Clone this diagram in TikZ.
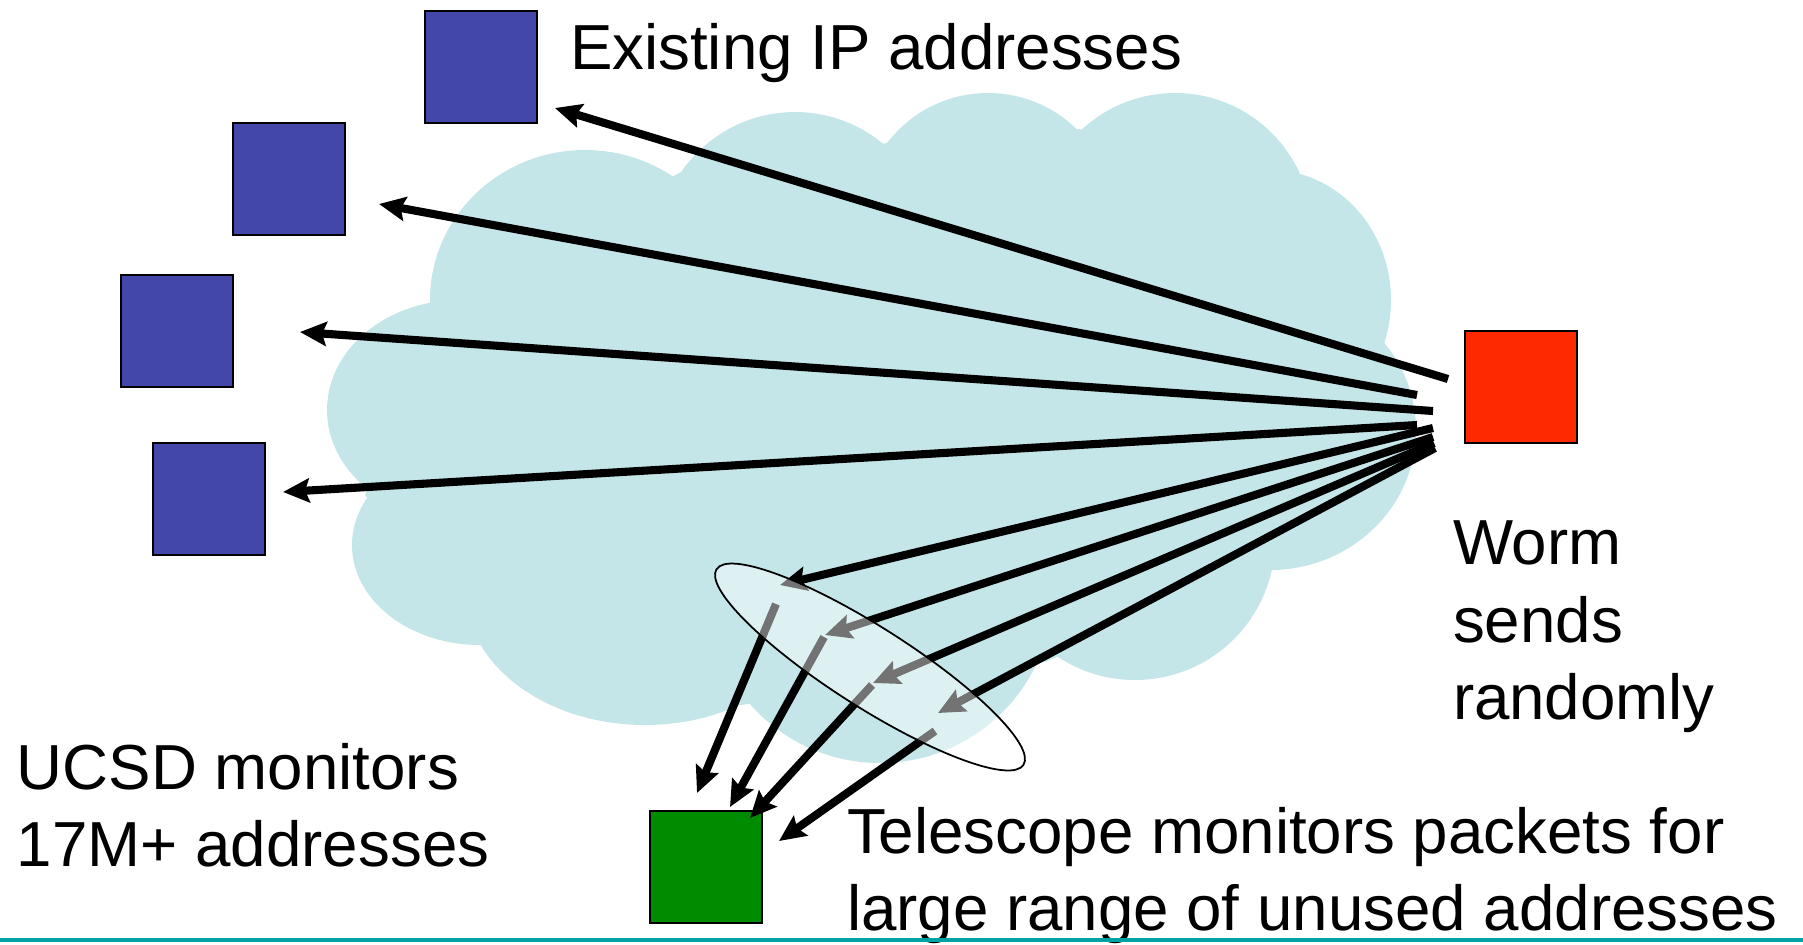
\documentclass[tikz,border=0pt]{standalone}
\usepackage{fontspec}
\setmainfont{Liberation Sans}
\usetikzlibrary{arrows.meta}

\definecolor{cloudblue}{RGB}{196,230,232}
\definecolor{hostblue}{RGB}{68,71,170}
\definecolor{wormred}{RGB}{255,41,0}
\definecolor{telegreen}{RGB}{0,140,0}
\definecolor{slideline}{RGB}{0,163,163}

\tikzset{
  host/.style={draw=black, line width=0.7pt, minimum width=1.12cm, minimum height=1.12cm, inner sep=0pt, outer sep=0pt},
  send/.style={line width=2.3pt, -{Stealth[length=7.5pt, width=6.8pt, inset=1.2pt]}},
  note/.style={inner sep=0pt, outer sep=0pt, align=left, font=\fontsize{18.1pt}{21.9pt}\selectfont}
}

\begin{document}
\begin{tikzpicture}[x=0.01cm, y=-0.01cm]
\useasboundingbox (0,0) rectangle (1803,944);

\fill[cloudblue] (427,310) -- (681,172) -- (895,142) -- (1079,129) -- (1293,177) -- (1383,332)
  -- (1270,560) -- (1045,662) -- (741,705) -- (474,642) -- (365,495) -- cycle;
\fill[cloudblue] (585,300) ellipse [x radius=155, y radius=150];
\fill[cloudblue] (795,250) circle [radius=138];
\fill[cloudblue] (988,220) circle [radius=127];
\fill[cloudblue] (1175,230) circle [radius=137];
\fill[cloudblue] (1270,300) ellipse [x radius=121, y radius=130];
\fill[cloudblue] (1270,430) ellipse [x radius=146, y radius=140];
\fill[cloudblue] (1135,540) circle [radius=140];
\fill[cloudblue] (880,590) circle [radius=173];
\fill[cloudblue] (645,590) ellipse [x radius=180, y radius=135];
\fill[cloudblue] (480,545) ellipse [x radius=128, y radius=100];
\fill[cloudblue] (460,410) ellipse [x radius=133, y radius=110];

\node[host, fill=hostblue] (ip1) at (481,67) {};
\node[host, fill=hostblue] (ip2) at (289,179) {};
\node[host, fill=hostblue] (ip3) at (177,331) {};
\node[host, fill=hostblue] (ip4) at (209,499) {};
\node[host, fill=wormred] (worm) at (1521,387) {};
\node[host, fill=telegreen] (scope) at (706,867) {};

\coordinate (s1) at (1448,379);
\coordinate (s2) at (1417,395);
\coordinate (s3) at (1433,411);
\coordinate (s4) at (1417,425);
\coordinate (s5) at (1433,428);
\coordinate (s6) at (1433,437);
\coordinate (s7) at (1434,443);
\coordinate (s8) at (1435,448);

\coordinate (t1) at (555,108);
\coordinate (t2) at (379,204);
\coordinate (t3) at (300,332);
\coordinate (t4) at (283,492);

\coordinate (hit1) at (780,585);
\coordinate (hit2) at (825,635);
\coordinate (hit3) at (873,683);
\coordinate (hit4) at (938,713);
\coordinate (out1) at (776,604);
\coordinate (out2) at (824,637);
\coordinate (out3) at (872,685);
\coordinate (out4) at (935,731);

\coordinate (in1) at (697,793);
\coordinate (in2) at (730,807);
\coordinate (in3) at (750,818);
\coordinate (in4) at (779,841);

\draw[send] (s1) -- (t1);
\draw[send] (s2) -- (t2);
\draw[send] (s3) -- (t3);
\draw[send] (s4) -- (t4);
\draw[send] (s5) -- (hit1);
\draw[send] (s6) -- (hit2);
\draw[send] (s7) -- (hit3);
\draw[send] (s8) -- (hit4);
\draw[send] (out1) -- (in1);
\draw[send] (out2) -- (in2);
\draw[send] (out3) -- (in3);
\draw[send] (out4) -- (in4);

\draw[line width=0.5pt, fill=white, fill opacity=0.45, rotate around={-32.5:(870,667)}]
  (870,667) ellipse [x radius=182, y radius=40];

\node[note, anchor=base west] (existing) at (570,69) {Existing IP addresses};
\node[note, anchor=base west] (sends) at (1453,719) {Worm\\sends\\randomly};
\node[note, anchor=base west] (ucsd) at (17,866) {UCSD monitors\\17M+ addresses};
\node[note, anchor=base west] (telescope) at (847,930) {Telescope monitors packets for\\large range of unused addresses};

\draw[slideline, line width=0.9pt] (0,940) -- (1803,940);
\end{tikzpicture}
\end{document}
